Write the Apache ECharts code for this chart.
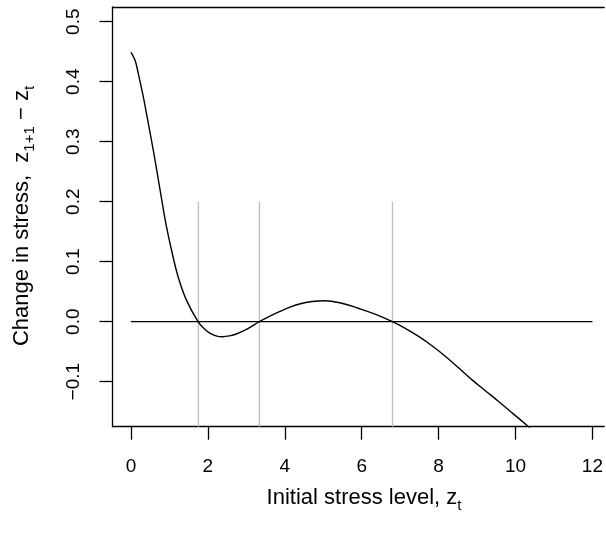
<!DOCTYPE html>
<html>
<head>
<meta charset="utf-8">
<script src="https://cdn.jsdelivr.net/npm/echarts@6/dist/echarts.min.js"></script>
<style>html,body{margin:0;padding:0;background:#fff;}#c{width:606px;height:534px;}</style>
</head>
<body>
<div id="c"></div>
<script>
// Data
const curveX = [0, 0.104, 0.19, 0.32, 0.45, 0.58, 0.69, 0.795, 0.925, 1.054, 1.226, 1.443, 1.745, 1.9, 2.05, 2.21, 2.375, 2.56, 2.74, 3.04, 3.34, 3.6, 3.86, 4.12, 4.38, 4.705, 5.03, 5.48, 5.93, 6.365, 6.8, 7.145, 7.49, 7.835, 8.18, 8.525, 8.87, 9.215, 9.56, 9.95, 10.34, 10.6];
const curveY = [0.449, 0.436, 0.414, 0.375, 0.331, 0.286, 0.245, 0.205, 0.158, 0.1195, 0.075, 0.036, 0, -0.0113, -0.019, -0.0235, -0.025, -0.0237, -0.0205, -0.0114, 0, 0.0088, 0.0167, 0.0239, 0.0295, 0.0336, 0.035, 0.0308, 0.022, 0.0122, 0, -0.0116, -0.025, -0.0406, -0.058, -0.0773, -0.097, -0.115, -0.133, -0.154, -0.175, -0.189];
const rootsX = [1.754, 3.342, 6.80];
const segTop = 0.2;
const segBottom = -0.175;
const zeroLineX = [0, 12];
const xTicks = [0, 2, 4, 6, 8, 10, 12];
const yTicks = [-0.1, 0, 0.1, 0.2, 0.3, 0.4, 0.5];

const FONT = 'Liberation Sans';
const series = [];
series.push({
  type: 'line', data: zeroLineX.map(x => [x, 0]), symbol: 'none',
  lineStyle: { color: '#000', width: 1.3 }, silent: true, z: 2
});
rootsX.forEach(r => {
  series.push({
    type: 'line', data: [[r, segBottom], [r, segTop]], symbol: 'none',
    lineStyle: { color: '#bebebe', width: 1.3 }, silent: true, z: 1
  });
});
series.push({
  type: 'line', data: curveX.map((x, i) => [x, curveY[i]]), symbol: 'none',
  smooth: 0.4, clip: true,
  lineStyle: { color: '#000', width: 1.4 }, silent: true, z: 3
});

const axisLineStyle = { color: '#000', width: 1.3 };
const chart = echarts.init(document.getElementById('c'), null, { renderer: 'canvas' });
chart.setOption({
  animation: false,
  backgroundColor: '#fff',
  grid: { left: 112.5, top: 7, right: 0, height: 419.7, show: false },
  xAxis: [{
    type: 'value', min: -0.48, max: 12.306, position: 'bottom',
    axisLine: { show: true, onZero: false, lineStyle: axisLineStyle },
    splitLine: { show: false },
    axisTick: { show: true, customValues: xTicks, length: 13, inside: false, lineStyle: axisLineStyle },
    axisLabel: { customValues: xTicks, margin: 40, verticalAlign: 'middle', fontFamily: FONT, fontSize: 19, color: '#000', formatter: v => String(v) }
  }, {
    type: 'value', min: -0.48, max: 12.306, position: 'top',
    axisLine: { show: true, onZero: false, lineStyle: axisLineStyle },
    splitLine: { show: false }, axisTick: { show: false }, axisLabel: { show: false }
  }],
  yAxis: {
    type: 'value', min: -0.175, max: 0.5245,
    axisLine: { show: true, onZero: false, lineStyle: axisLineStyle },
    splitLine: { show: false },
    axisTick: { show: true, customValues: yTicks, length: 13, inside: false, lineStyle: axisLineStyle },
    axisLabel: { customValues: yTicks, rotate: 90, margin: 39, align: 'center', verticalAlign: 'middle', fontFamily: FONT, fontSize: 19, color: '#000',
      formatter: v => v.toFixed(1).replace('-', '\u2212') }
  },
  graphic: [
    {
      type: 'text', x: 364, y: 498,
      style: {
        text: 'Initial stress level, z{s|t}',
        fontFamily: FONT, fontSize: 22, fill: '#000', align: 'center', verticalAlign: 'middle',
        rich: { s: { fontFamily: FONT, fontSize: 15, verticalAlign: 'bottom', lineHeight: 15, fill: '#000' } },
        lineHeight: 30
      }
    },
    {
      type: 'text', x: 22, y: 216, rotation: Math.PI / 2,
      style: {
        text: 'Change in stress,  z{s|1+1} \u2212 z{s|t}',
        fontFamily: FONT, fontSize: 22, fill: '#000', align: 'center', verticalAlign: 'middle',
        rich: { s: { fontFamily: FONT, fontSize: 15, verticalAlign: 'bottom', lineHeight: 15, fill: '#000' } },
        lineHeight: 30
      }
    }
  ],
  series: series
});
</script>
</body>
</html>
